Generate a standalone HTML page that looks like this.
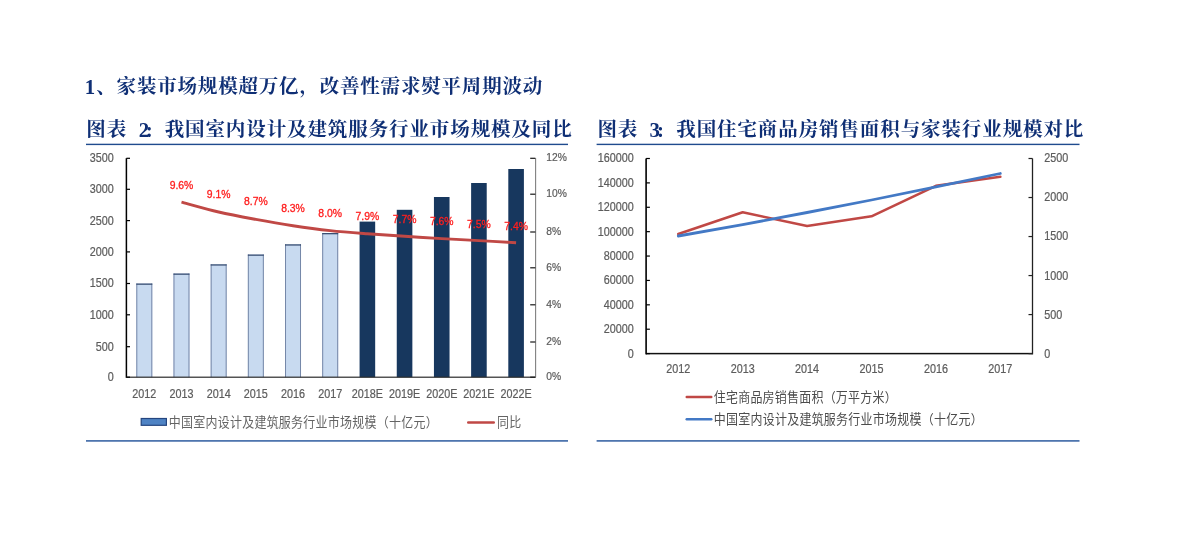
<!DOCTYPE html>
<html lang="zh-CN"><head><meta charset="utf-8"><title>家装市场规模超万亿</title>
<style>
html,body{margin:0;padding:0;background:#fff}
body{width:1180px;height:537px;overflow:hidden;position:relative;font-family:"Liberation Sans",sans-serif}
#page{position:absolute;left:0;top:0;width:1180px;height:537px;filter:blur(.45px)}
h1,figure{margin:0;padding:0;font-size:0}
svg.c{position:absolute;display:block;overflow:hidden}
.hn{font-family:"Liberation Serif",serif;font-weight:bold;font-size:20.8px;fill:#0f2f75}
.hk{font-family:"Liberation Serif","Noto Serif CJK SC",serif;font-weight:bold;font-size:19.5px;fill:#0f2f75}
.lg{font-family:"Liberation Sans","Noto Sans CJK SC",sans-serif;font-size:12px}
.ax{font-family:"Liberation Sans",sans-serif;font-size:10.8px;fill:#5c5c5c;stroke:#5c5c5c;stroke-width:.2px}
.pc{font-size:10.3px}
.dl{font-family:"Liberation Sans",sans-serif;font-size:10.4px;fill:#ff1e1e;stroke:#ff1e1e;stroke-width:.3px}
</style></head><body>
<div id="page">
<h1>
<svg class="c" style="left:80px;top:70px" width="480" height="32" viewBox="80 70 480 32" role="img" aria-label="1、家装市场规模超万亿，改善性需求熨平周期波动">
<text x="84.8" y="93.9" class="hn">1</text>
<text x="96.3" y="93.2" class="hk" textLength="446" lengthAdjust="spacing">、家装市场规模超万亿，改善性需求熨平周期波动</text>
</svg>
</h1>
<figure class="chart chart-bar">
<svg class="c" style="left:80px;top:112px" width="500" height="340" viewBox="80 112 500 340" role="img" aria-label="图表 2: 我国室内设计及建筑服务行业市场规模及同比">
<text x="86.25" y="135.8" class="hk" textLength="39.9" lengthAdjust="spacing">图表</text>
<text x="138.7" y="136.6" class="hn">2</text>
<text x="145.8" y="136.6" class="hn">:</text>
<text x="164.65" y="135.8" class="hk" textLength="407.1" lengthAdjust="spacing">我国室内设计及建筑服务行业市场规模及同比</text>
<rect x="86" y="143.7" width="482" height="1.4" fill="#1f4b8e"/>
<rect x="86" y="440.1" width="482" height="1.6" fill="#3b66a6"/>
<g class="bars">
<rect x="136.30" y="283.50" width="16.00" height="93.70" fill="#c8daf0"/>
<path d="M136.80 377.20 V283.50 M151.80 377.20 V283.50" stroke="#7587a8" stroke-width="1" fill="none"/>
<rect x="136.30" y="283.50" width="16.00" height="1.3" fill="#3a4f73"/>
<rect x="173.48" y="273.50" width="16.00" height="103.70" fill="#c8daf0"/>
<path d="M173.98 377.20 V273.50 M188.98 377.20 V273.50" stroke="#7587a8" stroke-width="1" fill="none"/>
<rect x="173.48" y="273.50" width="16.00" height="1.3" fill="#3a4f73"/>
<rect x="210.66" y="264.30" width="16.00" height="112.90" fill="#c8daf0"/>
<path d="M211.16 377.20 V264.30 M226.16 377.20 V264.30" stroke="#7587a8" stroke-width="1" fill="none"/>
<rect x="210.66" y="264.30" width="16.00" height="1.3" fill="#3a4f73"/>
<rect x="247.84" y="254.50" width="16.00" height="122.70" fill="#c8daf0"/>
<path d="M248.34 377.20 V254.50 M263.34 377.20 V254.50" stroke="#7587a8" stroke-width="1" fill="none"/>
<rect x="247.84" y="254.50" width="16.00" height="1.3" fill="#3a4f73"/>
<rect x="285.02" y="244.30" width="16.00" height="132.90" fill="#c8daf0"/>
<path d="M285.52 377.20 V244.30 M300.52 377.20 V244.30" stroke="#7587a8" stroke-width="1" fill="none"/>
<rect x="285.02" y="244.30" width="16.00" height="1.3" fill="#3a4f73"/>
<rect x="322.20" y="233.00" width="16.00" height="144.20" fill="#c8daf0"/>
<path d="M322.70 377.20 V233.00 M337.70 377.20 V233.00" stroke="#7587a8" stroke-width="1" fill="none"/>
<rect x="322.20" y="233.00" width="16.00" height="1.3" fill="#3a4f73"/>
<rect x="359.58" y="221.60" width="15.60" height="155.60" fill="#17375e"/>
<rect x="396.76" y="209.80" width="15.60" height="167.40" fill="#17375e"/>
<rect x="433.94" y="197.00" width="15.60" height="180.20" fill="#17375e"/>
<rect x="471.12" y="183.00" width="15.60" height="194.20" fill="#17375e"/>
<rect x="508.30" y="169.00" width="15.60" height="208.20" fill="#17375e"/>
</g>
<g class="axes">
<rect x="125.65" y="158.20" width="1.5" height="219.60" fill="#000"/>
<rect x="126.40" y="376.60" width="409.20" height="1.2" fill="#2b2b2b"/>
<rect x="535.05" y="158.20" width="1.1" height="219.00" fill="#7f7f7f"/>
<rect x="126.40" y="376.60" width="3.6" height="1.2" fill="#000"/>
<text transform="translate(113.8 381.15) scale(1 1.10)" text-anchor="end" class="ax">0</text>
<rect x="126.40" y="346.10" width="3.6" height="1.2" fill="#000"/>
<text transform="translate(113.8 350.65) scale(1 1.10)" text-anchor="end" class="ax">500</text>
<rect x="126.40" y="314.20" width="3.6" height="1.2" fill="#000"/>
<text transform="translate(113.8 318.75) scale(1 1.10)" text-anchor="end" class="ax">1000</text>
<rect x="126.40" y="282.90" width="3.6" height="1.2" fill="#000"/>
<text transform="translate(113.8 287.45) scale(1 1.10)" text-anchor="end" class="ax">1500</text>
<rect x="126.40" y="251.30" width="3.6" height="1.2" fill="#000"/>
<text transform="translate(113.8 255.85) scale(1 1.10)" text-anchor="end" class="ax">2000</text>
<rect x="126.40" y="220.00" width="3.6" height="1.2" fill="#000"/>
<text transform="translate(113.8 224.55) scale(1 1.10)" text-anchor="end" class="ax">2500</text>
<rect x="126.40" y="188.70" width="3.6" height="1.2" fill="#000"/>
<text transform="translate(113.8 193.25) scale(1 1.10)" text-anchor="end" class="ax">3000</text>
<rect x="126.40" y="157.70" width="3.6" height="1.2" fill="#000"/>
<text transform="translate(113.8 162.25) scale(1 1.10)" text-anchor="end" class="ax">3500</text>
<rect x="530.20" y="376.60" width="5.2" height="1.2" fill="#1a1a1a"/>
<text transform="translate(546.3 380.35) scale(1 1.10)" class="ax pc">0%</text>
<rect x="530.20" y="341.40" width="5.2" height="1.2" fill="#1a1a1a"/>
<text transform="translate(546.3 345.15) scale(1 1.10)" class="ax pc">2%</text>
<rect x="530.20" y="304.20" width="5.2" height="1.2" fill="#1a1a1a"/>
<text transform="translate(546.3 307.95) scale(1 1.10)" class="ax pc">4%</text>
<rect x="530.20" y="267.20" width="5.2" height="1.2" fill="#1a1a1a"/>
<text transform="translate(546.3 270.95) scale(1 1.10)" class="ax pc">6%</text>
<rect x="530.20" y="231.40" width="5.2" height="1.2" fill="#1a1a1a"/>
<text transform="translate(546.3 235.15) scale(1 1.10)" class="ax pc">8%</text>
<rect x="530.20" y="193.60" width="5.2" height="1.2" fill="#1a1a1a"/>
<text transform="translate(546.3 197.35) scale(1 1.10)" class="ax pc">10%</text>
<rect x="530.20" y="157.70" width="5.2" height="1.2" fill="#1a1a1a"/>
<text transform="translate(546.3 161.45) scale(1 1.10)" class="ax pc">12%</text>
<text transform="translate(144.30 398.35) scale(1 1.10)" text-anchor="middle" class="ax">2012</text>
<text transform="translate(181.48 398.35) scale(1 1.10)" text-anchor="middle" class="ax">2013</text>
<text transform="translate(218.66 398.35) scale(1 1.10)" text-anchor="middle" class="ax">2014</text>
<text transform="translate(255.84 398.35) scale(1 1.10)" text-anchor="middle" class="ax">2015</text>
<text transform="translate(293.02 398.35) scale(1 1.10)" text-anchor="middle" class="ax">2016</text>
<text transform="translate(330.20 398.35) scale(1 1.10)" text-anchor="middle" class="ax">2017</text>
<text transform="translate(367.38 398.35) scale(1 1.10)" text-anchor="middle" class="ax">2018E</text>
<text transform="translate(404.56 398.35) scale(1 1.10)" text-anchor="middle" class="ax">2019E</text>
<text transform="translate(441.74 398.35) scale(1 1.10)" text-anchor="middle" class="ax">2020E</text>
<text transform="translate(478.92 398.35) scale(1 1.10)" text-anchor="middle" class="ax">2021E</text>
<text transform="translate(516.10 398.35) scale(1 1.10)" text-anchor="middle" class="ax">2022E</text>
</g>
<path d="M181.48 202.10 C187.68 203.75 206.27 209.12 218.66 212.00 C231.05 214.88 243.45 217.12 255.84 219.40 C268.23 221.68 280.63 223.83 293.02 225.70 C305.41 227.57 317.81 229.25 330.20 230.60 C342.59 231.95 354.99 232.85 367.38 233.80 C379.77 234.75 392.17 235.50 404.56 236.30 C416.95 237.10 429.35 237.88 441.74 238.60 C454.13 239.32 466.53 239.92 478.92 240.60 C491.31 241.28 509.90 242.35 516.10 242.70" fill="none" stroke="#c04845" stroke-width="2.9" stroke-linecap="butt" stroke-linejoin="round"/>
<g class="labels">
<text transform="translate(181.48 188.85) scale(1 1.10)" text-anchor="middle" class="dl">9.6%</text>
<text transform="translate(218.66 198.35) scale(1 1.10)" text-anchor="middle" class="dl">9.1%</text>
<text transform="translate(255.84 205.05) scale(1 1.10)" text-anchor="middle" class="dl">8.7%</text>
<text transform="translate(293.02 211.85) scale(1 1.10)" text-anchor="middle" class="dl">8.3%</text>
<text transform="translate(330.20 216.85) scale(1 1.10)" text-anchor="middle" class="dl">8.0%</text>
<text transform="translate(367.38 219.65) scale(1 1.10)" text-anchor="middle" class="dl">7.9%</text>
<text transform="translate(404.56 223.35) scale(1 1.10)" text-anchor="middle" class="dl">7.7%</text>
<text transform="translate(441.74 224.75) scale(1 1.10)" text-anchor="middle" class="dl">7.6%</text>
<text transform="translate(478.92 227.85) scale(1 1.10)" text-anchor="middle" class="dl">7.5%</text>
<text transform="translate(516.10 229.85) scale(1 1.10)" text-anchor="middle" class="dl">7.4%</text>
</g>
<g class="legend">
<rect x="141.2" y="418.5" width="25.2" height="6.8" fill="#4f83c4" stroke="#24457f" stroke-width="1.2"/>
<text transform="translate(168.73 426.6) scale(1 1.1)" class="lg" fill="#646464" textLength="269" lengthAdjust="spacing">中国室内设计及建筑服务行业市场规模（十亿元）</text>
<rect x="467" y="421.2" width="28" height="2.5" rx="1.2" fill="#c04845"/>
<text transform="translate(497.03 426.6) scale(1 1.1)" class="lg" fill="#646464" textLength="24.3" lengthAdjust="spacing">同比</text>
</g>
</svg>
</figure>
<figure class="chart chart-line">
<svg class="c" style="left:590px;top:112px" width="500" height="340" viewBox="590 112 500 340" role="img" aria-label="图表 3: 我国住宅商品房销售面积与家装行业规模对比">
<text x="597.45" y="135.8" class="hk" textLength="39.9" lengthAdjust="spacing">图表</text>
<text x="649.6" y="136.6" class="hn">3</text>
<text x="656.9" y="136.6" class="hn">:</text>
<text x="676.25" y="135.8" class="hk" textLength="407.1" lengthAdjust="spacing">我国住宅商品房销售面积与家装行业规模对比</text>
<rect x="596.6" y="143.7" width="482.9" height="1.4" fill="#1f4b8e"/>
<rect x="596.6" y="440.1" width="482.9" height="1.6" fill="#3b66a6"/>
<g class="axes">
<rect x="645.30" y="158.50" width="1.6" height="195.90" fill="#000"/>
<rect x="646.10" y="352.85" width="386.40" height="1.5" fill="#111"/>
<rect x="1031.85" y="158.50" width="1.3" height="195.85" fill="#222"/>
<rect x="646.10" y="353.00" width="3.8" height="1.2" fill="#000"/>
<text transform="translate(633.8 357.55) scale(1 1.10)" text-anchor="end" class="ax">0</text>
<rect x="646.10" y="328.61" width="3.8" height="1.2" fill="#000"/>
<text transform="translate(633.8 333.16) scale(1 1.10)" text-anchor="end" class="ax">20000</text>
<rect x="646.10" y="304.23" width="3.8" height="1.2" fill="#000"/>
<text transform="translate(633.8 308.78) scale(1 1.10)" text-anchor="end" class="ax">40000</text>
<rect x="646.10" y="279.84" width="3.8" height="1.2" fill="#000"/>
<text transform="translate(633.8 284.39) scale(1 1.10)" text-anchor="end" class="ax">60000</text>
<rect x="646.10" y="255.45" width="3.8" height="1.2" fill="#000"/>
<text transform="translate(633.8 260.00) scale(1 1.10)" text-anchor="end" class="ax">80000</text>
<rect x="646.10" y="231.06" width="3.8" height="1.2" fill="#000"/>
<text transform="translate(633.8 235.61) scale(1 1.10)" text-anchor="end" class="ax">100000</text>
<rect x="646.10" y="206.68" width="3.8" height="1.2" fill="#000"/>
<text transform="translate(633.8 211.23) scale(1 1.10)" text-anchor="end" class="ax">120000</text>
<rect x="646.10" y="182.29" width="3.8" height="1.2" fill="#000"/>
<text transform="translate(633.8 186.84) scale(1 1.10)" text-anchor="end" class="ax">140000</text>
<rect x="646.10" y="157.90" width="3.8" height="1.2" fill="#000"/>
<text transform="translate(633.8 162.45) scale(1 1.10)" text-anchor="end" class="ax">160000</text>
<rect x="1028.50" y="353.00" width="4" height="1.2" fill="#222"/>
<text transform="translate(1044.3 357.55) scale(1 1.10)" class="ax">0</text>
<rect x="1028.50" y="313.98" width="4" height="1.2" fill="#222"/>
<text transform="translate(1044.3 318.53) scale(1 1.10)" class="ax">500</text>
<rect x="1028.50" y="274.96" width="4" height="1.2" fill="#222"/>
<text transform="translate(1044.3 279.51) scale(1 1.10)" class="ax">1000</text>
<rect x="1028.50" y="235.94" width="4" height="1.2" fill="#222"/>
<text transform="translate(1044.3 240.49) scale(1 1.10)" class="ax">1500</text>
<rect x="1028.50" y="196.92" width="4" height="1.2" fill="#222"/>
<text transform="translate(1044.3 201.47) scale(1 1.10)" class="ax">2000</text>
<rect x="1028.50" y="157.90" width="4" height="1.2" fill="#222"/>
<text transform="translate(1044.3 162.45) scale(1 1.10)" class="ax">2500</text>
<text transform="translate(678.30 373.45) scale(1 1.10)" text-anchor="middle" class="ax">2012</text>
<text transform="translate(742.70 373.45) scale(1 1.10)" text-anchor="middle" class="ax">2013</text>
<text transform="translate(807.10 373.45) scale(1 1.10)" text-anchor="middle" class="ax">2014</text>
<text transform="translate(871.50 373.45) scale(1 1.10)" text-anchor="middle" class="ax">2015</text>
<text transform="translate(935.90 373.45) scale(1 1.10)" text-anchor="middle" class="ax">2016</text>
<text transform="translate(1000.30 373.45) scale(1 1.10)" text-anchor="middle" class="ax">2017</text>
</g>
<polyline points="678.30,234.00 742.70,212.30 807.10,226.00 871.50,216.30 935.90,185.80 1000.30,176.80" fill="none" stroke="#c04845" stroke-width="2.6" stroke-linejoin="round" stroke-linecap="round"/>
<polyline points="678.30,236.00 742.70,224.60 807.10,212.50 871.50,200.00 935.90,186.80 1000.30,173.50" fill="none" stroke="#4379c5" stroke-width="2.8" stroke-linejoin="round" stroke-linecap="round"/>
<g class="legend">
<rect x="685.5" y="395.8" width="27" height="2.5" rx="1.2" fill="#c04845"/>
<text transform="translate(713.74 402.1) scale(1 1.1)" class="lg" fill="#4c4c4c" textLength="183" lengthAdjust="spacing">住宅商品房销售面积（万平方米）</text>
<rect x="685.5" y="418.0" width="27" height="2.5" rx="1.2" fill="#4379c5"/>
<text transform="translate(713.74 424) scale(1 1.1)" class="lg" fill="#4c4c4c" textLength="269" lengthAdjust="spacing">中国室内设计及建筑服务行业市场规模（十亿元）</text>
</g>
</svg>
</figure>
</div>
</body></html>
